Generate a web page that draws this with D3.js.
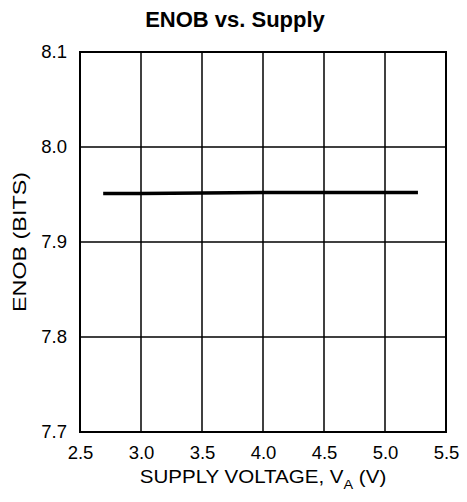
<!DOCTYPE html>
<html>
<head>
<meta charset="utf-8">
<script src="https://cdn.jsdelivr.net/npm/d3@7"></script>
<style>
  body { margin: 0; background: #fff; }
  text { font-family: "Liberation Sans", Arial, sans-serif; fill: #000; }
</style>
</head>
<body>
<div id="d3"></div>
<script>
// data
var voltage = [2.69, 3.0, 3.5, 4.0, 4.5, 5.0, 5.27];
var enob = [7.951, 7.951, 7.9515, 7.952, 7.9522, 7.9522, 7.9522];
var xTicks = [2.5, 3.0, 3.5, 4.0, 4.5, 5.0, 5.5];
var yTicks = [7.7, 7.8, 7.9, 8.0, 8.1];

var margin = {top: 52, right: 21, bottom: 70, left: 80},
  width = 467 - margin.left - margin.right,
  height = 502 - margin.top - margin.bottom;

var svg = d3.select("#d3")
  .append("svg")
  .attr("width", 467)
  .attr("height", 502);

var g = svg.append("g")
  .attr("transform", "translate(" + margin.left + "," + margin.top + ")");

var x = d3.scaleLinear().domain([2.5, 5.5]).range([0, width]);
var y = d3.scaleLinear().domain([7.7, 8.1]).range([height, 0]);

// grid
g.selectAll(".vgrid")
  .data(xTicks)
  .enter().append("line")
  .attr("x1", d => x(d)).attr("x2", d => x(d))
  .attr("y1", 0).attr("y2", height)
  .attr("stroke", "#000").attr("stroke-width", 1.5);

g.selectAll(".hgrid")
  .data(yTicks)
  .enter().append("line")
  .attr("y1", d => y(d)).attr("y2", d => y(d))
  .attr("x1", 0).attr("x2", width)
  .attr("stroke", "#000").attr("stroke-width", 1.5);

// frame
g.append("rect")
  .attr("width", width).attr("height", height)
  .attr("fill", "none").attr("stroke", "#000").attr("stroke-width", 2);

// x axis labels
var xAxis = g.append("g")
  .attr("transform", "translate(0," + height + ")")
  .call(d3.axisBottom(x).tickValues(xTicks).tickFormat(d3.format(".1f")).tickSize(0).tickPadding(14));
xAxis.select(".domain").remove();
xAxis.selectAll("text").style("font-size", "18.5px").attr("font-family", "Liberation Sans, Arial, sans-serif");

// y axis labels
var yAxis = g.append("g")
  .call(d3.axisLeft(y).tickValues(yTicks).tickFormat(d3.format(".1f")).tickSize(0).tickPadding(13));
yAxis.select(".domain").remove();
yAxis.selectAll("text").style("font-size", "18.5px").attr("font-family", "Liberation Sans, Arial, sans-serif");

// the line
g.append("path")
  .datum(voltage.map((v, i) => ({v: v, e: enob[i]})))
  .attr("fill", "none")
  .attr("stroke", "#000")
  .attr("stroke-width", 3.5)
  .attr("d", d3.line().x(d => x(d.v)).y(d => y(d.e)));

// title
svg.append("text")
  .attr("x", 235).attr("y", 27)
  .attr("text-anchor", "middle")
  .style("font-size", "22px").style("font-weight", "bold")
  .text("ENOB vs. Supply");

// x title
var xt = svg.append("text")
  .attr("transform", "translate(263,483) scale(1.11,1)")
  .attr("text-anchor", "middle")
  .style("font-size", "18.5px");
xt.append("tspan").text("SUPPLY VOLTAGE, V");
xt.append("tspan").attr("dy", 6).style("font-size", "13px").text("A");
xt.append("tspan").attr("dy", -6).text(" (V)");

// y title
svg.append("text")
  .attr("transform", "translate(26," + (margin.top + height / 2) + ") rotate(-90)")
  .attr("text-anchor", "middle")
  .attr("textLength", 140)
  .attr("lengthAdjust", "spacingAndGlyphs")
  .style("font-size", "19px")
  .text("ENOB (BITS)");
</script>
</body>
</html>
